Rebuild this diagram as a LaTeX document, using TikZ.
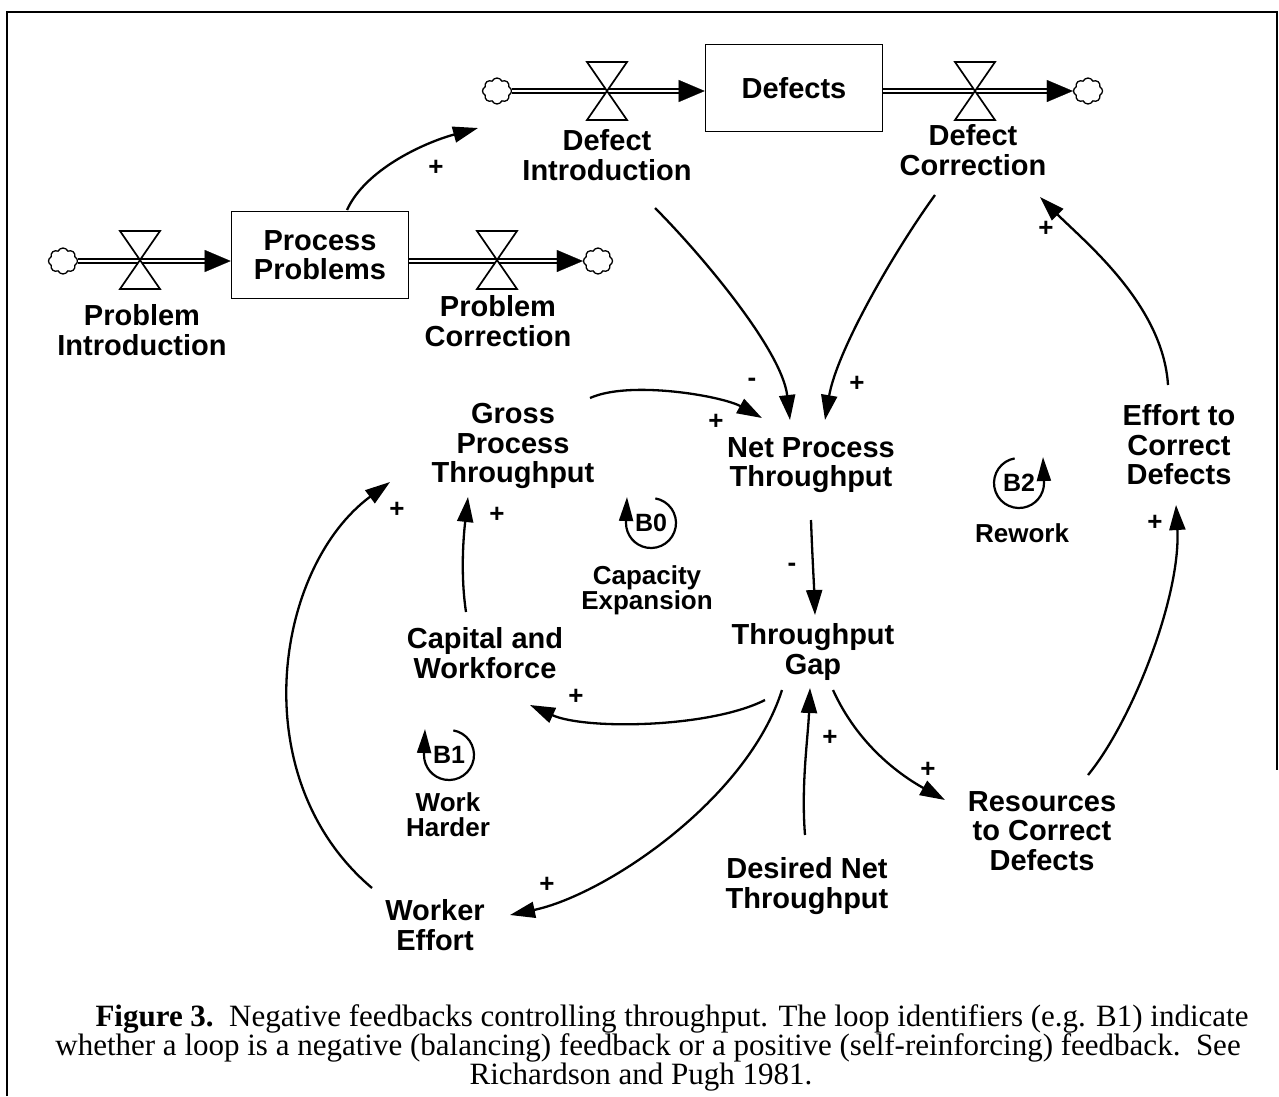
\documentclass[tikz,border=0pt]{standalone}
\usepackage{fontspec}
\setmainfont{Liberation Serif}
\setsansfont{Liberation Sans}
\usetikzlibrary{arrows.meta,shapes.symbols,calc}
\newcommand{\capln}[1]{{\fontsize{31}{29}\selectfont #1}}
\tikzset{
  lbl/.style={font=\sffamily\bfseries\fontsize{29}{29.5}\selectfont, align=center, inner sep=0pt},
  loopname/.style={font=\sffamily\bfseries\fontsize{26}{25}\selectfont, align=center, inner sep=0pt},
  loopid/.style={font=\sffamily\bfseries\fontsize{25}{25}\selectfont, inner sep=0pt},
  pol/.style={font=\sffamily\bfseries\fontsize{26}{26}\selectfont, inner sep=0pt},
  link/.style={line width=2.3pt, -{Triangle[length=25pt,width=16pt]}},
  loopar/.style={line width=2.2pt, -{Triangle[length=24pt,width=14pt]}},
  stock/.style={draw, line width=1.6pt, minimum width=177pt, minimum height=87pt, inner sep=0pt,
                font=\sffamily\bfseries\fontsize{29}{29.5}\selectfont, align=center},
  pipe/.style={double=white, double distance=2.5pt, line width=1.5pt},
  flowtip/.style={-{Triangle[length=26pt,width=22pt]}, line width=0.2pt},
  cloudn/.style={cloud, cloud puffs=8, cloud puff arc=130, cloud ignores aspect, draw, line width=1.3pt,
                 minimum width=29pt, minimum height=26pt, inner sep=0pt},
  valve/.pic={\draw[line width=1.7pt, fill=white, line join=miter] (-20,-29) -- (20,-29) -- (-20,29) -- (20,29) -- cycle;},
  capt/.style={inner sep=0pt, anchor=base}
}
\begin{document}
\begin{tikzpicture}[x=1pt,y=-1pt]
\useasboundingbox (0,0) rectangle (1279,1096);
\draw[line width=2pt] (7,1096) -- (7,12) -- (1277,12) -- (1277,770);

% ---------- stocks and flows ----------
\node[stock] (dbox) at (794,88) {Defects};
\node[stock] (pbox) at (320,255) {Process\\Problems};

\node[cloudn] (c1) at (497,91) {};
\node[cloudn] (c2) at (1088,91) {};
\node[cloudn] (c3) at (63,261) {};
\node[cloudn] (c4) at (598,261) {};

\draw[pipe] (c1.east) -- ($(dbox.west |- c1)+(-22,0)$);
\draw[flowtip] ($(dbox.west |- c1)+(-26,0)$) -- (dbox.west |- c1);
\pic at (607,91) {valve};

\draw[pipe] (dbox.east |- c2) -- ($(c2.west)+(-22,0)$);
\draw[flowtip] ($(c2.west)+(-26,0)$) -- (c2.west);
\pic at (975,91) {valve};

\draw[pipe] (c3.east) -- ($(pbox.west |- c3)+(-22,0)$);
\draw[flowtip] ($(pbox.west |- c3)+(-26,0)$) -- (pbox.west |- c3);
\pic at (140,260) {valve};

\draw[pipe] (pbox.east |- c4) -- ($(c4.west)+(-22,0)$);
\draw[flowtip] ($(c4.west)+(-26,0)$) -- (c4.west);
\pic at (497,260) {valve};

% ---------- labels ----------
\node[lbl] (defint) at (607,155) {Defect\\Introduction};
\node[lbl] (defcor) at (973,150) {Defect\\Correction};
\node[lbl] (probint) at (142,330) {Problem\\Introduction};
\node[lbl] (probcor) at (498,321) {Problem\\Correction};
\node[lbl] (npt) at (811,465) {Net Process\\Throughput};
\node[lbl] (gpt) at (513,446) {Gross\\Process\\Throughput};
\node[lbl] (cw) at (485,653) {Capital and\\Workforce};
\node[lbl] (tg) at (813,652) {Throughput\\Gap};
\node[lbl] (we) at (435,925) {Worker\\Effort};
\node[lbl] (dnt) at (807,886) {Desired Net\\Throughput};
\node[lbl] (rcd) at (1042,831) {Resources\\to Correct\\Defects};
\node[lbl] (ecd) at (1179,445) {Effort to\\Correct\\Defects};

% ---------- causal links ----------
\draw[link] ([shift={(27,-45)}]pbox.center) .. controls +(18,-40) and +(-55,15) .. ([shift={(-129,-27)}]defint.center);
\draw[link] ([shift={(48,53)}]defint.center) .. controls +(45,45) and +(-8,-70) .. ([shift={(-21,-45)}]npt.center);
\draw[link] ([shift={(-38,45)}]defcor.center) .. controls +(-40,55) and +(12,-70) .. ([shift={(14,-45)}]npt.center);
\draw[link] ([shift={(77,-48)}]gpt.center) .. controls +(40,-18) and +(-40,-22) .. ([shift={(-49,-47)}]npt.center);
\draw[link] ([shift={(0,55)}]npt.center) .. controls +(1,30) and +(-1,-30) .. ([shift={(2,-37)}]tg.center);
\draw[link] ([shift={(-19,-41)}]cw.center) .. controls +(-6,-40) and +(-4,35) .. ([shift={(-45,51)}]gpt.center);
\draw[link] ([shift={(-48,48)}]tg.center) .. controls +(-55,28) and +(55,25) .. ([shift={(45,52)}]cw.center);
\draw[link] ([shift={(-63,-37)}]we.center) .. controls +(-130,-110) and +(-115,85) .. ([shift={(-123,36)}]gpt.center);
\draw[link] ([shift={(-31,38)}]tg.center) .. controls +(-35,110) and +(95,-20) .. ([shift={(75,-10)}]we.center);
\draw[link] ([shift={(-2,-51)}]dnt.center) .. controls +(-4,-50) and +(-2,50) .. ([shift={(-3,36)}]tg.center);
\draw[link] ([shift={(20,38)}]tg.center) .. controls +(25,55) and +(-45,-25) .. ([shift={(-97,-31)}]rcd.center);
\draw[link] ([shift={(46,-56)}]rcd.center) .. controls +(45,-55) and +(5,90) .. ([shift={(-3,60)}]ecd.center);
\draw[link] ([shift={(-11,-60)}]ecd.center) .. controls +(-5,-80) and +(45,45) .. ([shift={(67,47)}]defcor.center);

% ---------- polarities ----------
\node[pol] (s1) at (436,168) {+};
\node[pol] (s2) at (752,382) {-};
\node[pol] (s3) at (857,384) {+};
\node[pol] (s4) at (716,422) {+};
\node[pol] (s5) at (792,567) {-};
\node[pol] (s6) at (497,515) {+};
\node[pol] (s7) at (397,510) {+};
\node[pol] (s8) at (576,697) {+};
\node[pol] (s9) at (547,885) {+};
\node[pol] (s10) at (830,738) {+};
\node[pol] (s11) at (928,770) {+};
\node[pol] (s12) at (1155,523) {+};
\node[pol] (s13) at (1046,229) {+};

% ---------- loop identifiers ----------
\node[loopid] (b0) at (651,523) {B0};
\draw[loopar] ($(b0)+(-80:25)$) arc[start angle=-80, end angle=180, radius=25] -- ++(1,-26);
\node[loopname] (b0n) at (647,590) {Capacity\\Expansion};

\node[loopid] (b1) at (449,755) {B1};
\draw[loopar] ($(b1)+(-80:25)$) arc[start angle=-80, end angle=180, radius=25] -- ++(1,-26);
\node[loopname] (b1n) at (448,815) {Work\\Harder};

\node[loopid] (b2) at (1019,483) {B2};
\draw[loopar] ($(b2)+(-100:25)$) arc[start angle=-100, end angle=-360, radius=25] -- ++(-1,-26);
\node[loopname] (b2n) at (1022,533) {Rework};

% ---------- caption ----------
\node[capt] (cap1) at (672,1026) {\capln{\textbf{Figure 3.}\ \ Negative feedbacks controlling throughput. The loop identifiers (e.g. B1) indicate}};
\node[capt] (cap2) at (648,1055) {\capln{whether a loop is a negative (balancing) feedback or a positive (self-reinforcing) feedback.\ \ See}};
\node[capt] (cap3) at (641,1084) {\capln{Richardson and Pugh 1981.}};
\end{tikzpicture}
\end{document}
